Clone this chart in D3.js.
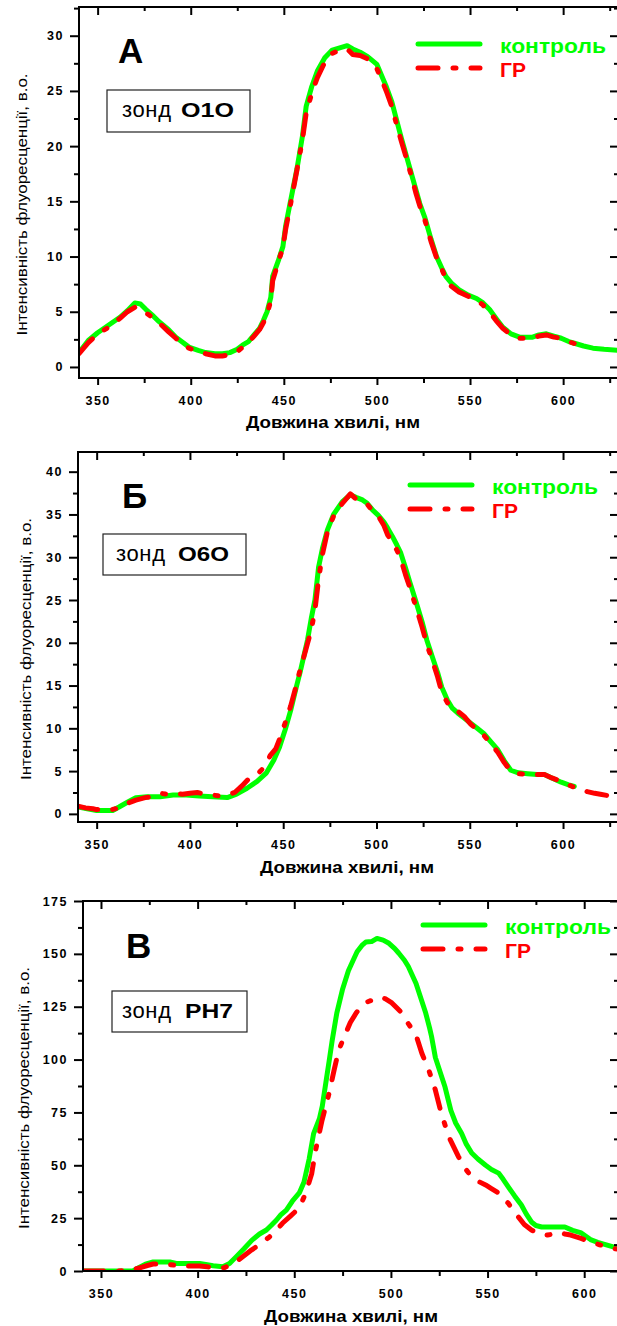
<!DOCTYPE html>
<html>
<head>
<meta charset="utf-8">
<script src="https://cdn.jsdelivr.net/npm/d3@7"></script>
<style>
body { margin: 0; background: #fff; }
svg { display: block; }
text { font-family: "Liberation Sans", Arial, sans-serif; }
</style>
</head>
<body>
<script>
// ---- data: [wavelength nm, intensity] ----
var controlA = [[340,1.3],[345,2.4],[350,3.1],[356,3.8],[362,4.5],[366,5.1],[370,5.8],[373,5.7],[376,5.2],[380,4.6],[383,4.1],[388,3.4],[392,2.7],[396,2.2],[399,1.8],[404,1.5],[408,1.3],[413,1.2],[417,1.2],[421,1.3],[425,1.6],[428,2.0],[431,2.3],[434,2.9],[437,3.5],[439,4.2],[441,5.0],[443,6.3],[444,8.2],[447,9.6],[449.5,10.9],[451,12.8],[453,14.5],[455,16.2],[457,17.9],[460,20.9],[462,23.6],[465,25.4],[468,26.8],[472,28.0],[476,28.7],[480,28.9],[484,29.1],[487,28.8],[491,28.5],[495,28.1],[500,27.4],[505,25.4],[508,24.0],[510.5,22.4],[513,20.8],[516,19.0],[519,17.2],[521,16.0],[523,14.8],[525.6,13.6],[529,11.6],[532,10.0],[535,8.9],[537,8.2],[540,7.6],[544,7.0],[549,6.5],[553.5,6.2],[557,5.8],[560.5,5.2],[564,4.4],[567.6,3.6],[572,3.0],[576.6,2.7],[580,2.7],[583.6,2.7],[587,2.9],[591,3.0],[595,2.8],[599,2.6],[603,2.3],[607,2.1],[611,1.9],[616,1.7],[622,1.6],[630,1.5]];
var grA = [[340,1.2],[345,2.2],[350,3.0],[356,3.6],[362,4.4],[366,5.0],[370,5.4],[373,5.3],[376,4.9],[380,4.4],[383,4.0],[388,3.2],[392,2.6],[396,2.0],[399,1.7],[404,1.4],[408,1.2],[413,1.0],[417,1.0],[421,1.1],[425,1.4],[428,1.8],[431,2.2],[434,2.8],[437,3.4],[439,4.0],[441,4.8],[443,6.0],[444,7.8],[447,9.5],[449.5,10.8],[451,12.5],[453,14.2],[455,16.0],[457,17.8],[460,20.6],[462,23.0],[465,24.8],[468,26.2],[472,27.6],[476,28.4],[480,28.7],[484,28.8],[487,28.3],[491,28.2],[495,27.9],[500,27.0],[505,25.0],[508,23.6],[510.5,22.0],[513,20.5],[516,18.8],[519,17.0],[521,15.7],[523,14.6],[525.6,13.4],[529,11.4],[532,9.9],[535,8.8],[537,8.0],[540,7.3],[544,6.8],[549,6.4],[553.5,6.1],[557,5.6],[560.5,5.0],[564,4.2],[567.6,3.5],[572,2.9],[576.6,2.6],[580,2.6],[583.6,2.6],[587,2.8],[591,2.9],[595,2.7],[599,2.6],[603,2.3],[608,2.0]];

var controlB = [[340,0.8],[345,0.6],[350,0.4],[355,0.4],[358.6,0.4],[362,0.8],[366,1.3],[371,1.9],[377,2.0],[384,2.0],[391,2.2],[398,2.2],[405,2.1],[412,2.0],[420,1.9],[425,2.3],[430.6,3.0],[436,3.8],[441,4.8],[445,6.3],[448,7.8],[451,9.8],[454,12.1],[457,14.8],[459,16.5],[461,18.4],[463,20.3],[465,22.8],[467,25.0],[469,28.9],[471,31.0],[473.7,33.2],[477,35.0],[481.7,36.5],[486,37.3],[489,37.0],[492.5,36.7],[495,36.3],[498,35.5],[501,34.9],[504,34.1],[506,33.4],[508.6,32.4],[511,31.4],[513,30.5],[515.5,28.8],[518,27.0],[520,25.6],[522,24.2],[524.5,22.4],[527,20.3],[530,18.3],[532.8,16.5],[535,14.8],[538,13.3],[540.5,12.4],[543.5,11.8],[547,11.2],[550.5,10.6],[554,10.0],[557.5,9.4],[561,8.5],[565,7.5],[568.5,6.2],[572,5.1],[576,4.8],[581,4.7],[586,4.6],[590,4.6],[594,4.2],[599,3.7],[603,3.4],[606,3.2]];
var grB = [[340,0.9],[344,0.7],[348,0.6],[350,0.5],[355,0.5],[358,0.5],[362,0.7],[366,1.2],[371,1.6],[376,1.9],[380,2.0],[384,2.4],[388,2.3],[392,2.4],[396,2.3],[400,2.4],[404,2.5],[408,2.3],[412,2.2],[416,2.1],[420,2.2],[424,2.5],[428,3.3],[432,4.2],[436,4.6],[440,5.5],[443,6.8],[446,7.6],[448,8.7],[451,10.6],[454,12.6],[457,15.0],[459,16.8],[461,18.3],[463,19.9],[465,21.5],[467,23.8],[469,27.5],[471,30.3],[473.7,33.0],[477,34.8],[481.7,36.3],[486,37.4],[489,36.8],[492.5,36.4],[495,36.2],[498,35.4],[501,34.8],[504,33.7],[506,32.6],[508.6,31.8],[511,30.8],[513,29.8],[515.5,28.0],[518,26.4],[520,25.0],[522,23.6],[524.5,21.8],[527,19.8],[530,17.9],[532.8,16.0],[535,14.2],[538,13.0],[540.5,12.4],[543.5,12.0],[547,11.4],[550.5,10.5],[554,9.8],[557.5,9.2],[561,8.3],[565,7.2],[568.5,6.0],[572,5.0],[576,4.7],[581,4.6],[586,4.6],[590,4.6],[594,4.2],[599,3.8],[603,3.4],[606,3.1],[610,2.9],[613,2.6],[617,2.4],[620,2.3],[625,2.1],[630,1.9]];

var controlC = [[341,0],[350,0],[360,0],[366.5,0],[370,1.8],[373,3.2],[377,4.3],[381,4.3],[385.6,4.3],[389,3.6],[395,3.6],[401,3.6],[405,3.0],[408,2.5],[413,2.0],[416.5,3.5],[420,6.8],[424,10.5],[428,14.5],[432,17.5],[435.6,19.4],[438,21.5],[440.7,24],[443,26.5],[445.9,28.8],[449,33],[452.6,36.9],[455,42],[457.7,53],[460,65],[463,72],[464.5,78],[466.5,90],[468,99],[469.6,109],[472,122],[474.9,133],[478,142],[480,146],[482.5,151],[485,154],[487,155.6],[490,155.8],[492.8,157.3],[496,156.5],[499,155],[502,152.5],[504,150.4],[507,147],[509,144],[511,140],[513,136],[515.5,129],[518,122],[520,115],[521,111],[523,101],[525.5,94],[528,87],[531,76],[533.5,70],[536.6,65],[539,60],[541.8,55.8],[545,53],[549,50],[552,48],[555.7,46.3],[558,43.5],[560.8,39.7],[564,35.5],[567.5,31.2],[570,27],[572.7,23.2],[575,21.5],[578,20.8],[584,20.8],[590,20.8],[594,19.2],[598.5,18],[603.6,14.7],[607,13.5],[611,12.5],[615,11.4],[618,10.8]];
var grC = [[341,0],[350,0],[358,0],[365,0.2],[370,1.5],[374,2.6],[377,3.3],[382,3.3],[386,3.0],[391,2.4],[396,2.4],[401,2.4],[405,2.0],[410,1.4],[414,1.6],[419,3.8],[423,6.5],[428,10],[432,12.5],[437,16],[441,19.5],[444,22.7],[448,26],[452.6,29.8],[456,37],[459,46],[461,57],[464.4,71.4],[468,84],[470.6,95],[473,104.5],[476.7,112.6],[479,117.5],[482,122],[485,125.5],[487,127],[490,128],[493.8,129.6],[497,128.8],[500.5,126.8],[503,124.5],[505.7,122],[509,117],[513,111.6],[516,103],[519.6,95],[523,85.6],[526,74.7],[530,63.4],[535,54],[538,49],[541.8,44.5],[545,42.5],[549,40.7],[552,39],[555.7,36.9],[558,34.5],[560.8,32],[563,29],[566,25.5],[569,22],[572.7,19.4],[576,17.8],[581,17],[584,17.5],[586.6,18.4],[590,17.5],[593,17],[598,15.5],[603.6,13.7],[608,12.4],[614,10.9],[618,10.2]];

// tick labels
var xTicks   = [350, 400, 450, 500, 550, 600];
var xMinor   = [375, 425, 475, 525, 575, 625];
var yTicksA  = [0, 5, 10, 15, 20, 25, 30];
var yTicksB  = [0, 5, 10, 15, 20, 25, 30, 35, 40];
var yTicksC  = [0, 25, 50, 75, 100, 125, 150, 175];
var yMinorA  = [2.5, 7.5, 12.5, 17.5, 22.5, 27.5, 32.5];
var yMinorB  = [2.5, 7.5, 12.5, 17.5, 22.5, 27.5, 32.5, 37.5, 42.5];
var yMinorC  = [12.5, 37.5, 62.5, 87.5, 112.5, 137.5, 162.5];

var seriesNames = ["контроль", "ГР"];
var panelLetters = ["А", "Б", "В"];
var probeNames  = ["O1O", "O6O", "PH7"];
var xTitle = "Довжина хвилі, нм";
var yTitle = "Інтенсивність флуоресценції, в.о.";

var GREEN = "#00ff00", RED = "#ff0000";
var DASH = "20,15,3,15";

var svg = d3.select("body").append("svg")
  .attr("width", 617).attr("height", 1326);

var panels = [
  { i:0, control:controlA, gr:grA, xDom:[340,630], yDom:[-1,32.6], yTicks:yTicksA, yMinor:yMinorA,
    left:79, right:619, top:7, bottom:378,
    letterPos:[118,63], box:[107,90,143,42], probeX:[15,74], probeLen:53,
    legend:[418,44], yTitleX:27, xTitleX:333, xTitleY:428 },
  { i:1, control:controlB, gr:grB, xDom:[340,630], yDom:[-0.95,42.3], yTicks:yTicksB, yMinor:yMinorB,
    left:78, right:619, top:452, bottom:822,
    letterPos:[122,508], box:[103,534,143,41], probeX:[13,75], probeLen:51,
    legend:[410,485], yTitleX:31, xTitleX:347, xTitleY:873 },
  { i:2, control:controlC, gr:grC, xDom:[340.7,618], yDom:[0,175], yTicks:yTicksC, yMinor:yMinorC,
    left:83, right:619, top:901, bottom:1271,
    letterPos:[126,958], box:[112,991,135,41], probeX:[10,73], probeLen:48,
    legend:[423,925], yTitleX:29, xTitleX:351, xTitleY:1322 }
];

panels.forEach(drawPanel);

function drawPanel(p) {
  var g = svg.append("g");
  var x = d3.scaleLinear().domain(p.xDom).range([p.left, p.right]);
  var y = d3.scaleLinear().domain(p.yDom).range([p.bottom, p.top]);

  var clipId = "clip" + p.i;
  g.append("clipPath").attr("id", clipId).append("rect")
    .attr("x", p.left).attr("y", p.top)
    .attr("width", p.right - p.left).attr("height", p.bottom - p.top);

  var line = d3.line().x(function (d) { return x(d[0]); }).y(function (d) { return y(d[1]); });

  var curves = g.append("g").attr("clip-path", "url(#" + clipId + ")");
  curves.append("path").datum(p.control).attr("d", line)
    .attr("fill", "none").attr("stroke", GREEN).attr("stroke-width", 5)
    .attr("stroke-linejoin", "round").attr("stroke-linecap", "round");
  curves.append("path").datum(p.gr).attr("d", line)
    .attr("fill", "none").attr("stroke", RED).attr("stroke-width", 5)
    .attr("stroke-dasharray", DASH)
    .attr("stroke-linejoin", "round").attr("stroke-linecap", "round");

  // axes, Origin style: ticks out on left/bottom, in on top/right
  function style(sel) {
    sel.selectAll(".domain").remove();
    sel.selectAll("line").attr("stroke", "#000").attr("stroke-width", 2);
    sel.selectAll("text").attr("fill", "#000").style("font-size", "12.5px")
      .style("font-weight", "bold").style("letter-spacing", "1.5px");
  }
  var fmt = d3.format("d");
  var xm = xMinor.filter(function (v) { return v < p.xDom[1]; });
  var ym = p.yMinor.filter(function (v) { return v < p.yDom[1]; });
  g.append("g").attr("transform", "translate(0," + p.bottom + ")")
    .call(d3.axisBottom(x).tickValues(xTicks).tickSize(7).tickPadding(11).tickFormat(fmt)).call(style);
  g.append("g").attr("transform", "translate(0," + p.bottom + ")")
    .call(d3.axisBottom(x).tickValues(xm).tickSize(5).tickFormat("")).call(style);
  g.append("g").attr("transform", "translate(0," + p.top + ")")
    .call(d3.axisTop(x).tickValues(xTicks).tickSize(-8).tickFormat("")).call(style);
  g.append("g").attr("transform", "translate(0," + p.top + ")")
    .call(d3.axisTop(x).tickValues(xm).tickSize(-4).tickFormat("")).call(style);

  g.append("g").attr("transform", "translate(" + p.left + ",0)")
    .call(d3.axisLeft(y).tickValues(p.yTicks).tickSize(9).tickPadding(6).tickFormat(fmt)).call(style);
  g.append("g").attr("transform", "translate(" + p.left + ",0)")
    .call(d3.axisLeft(y).tickValues(ym).tickSize(5).tickFormat("")).call(style);
  g.append("g").attr("transform", "translate(" + p.right + ",0)")
    .call(d3.axisRight(y).tickValues(p.yTicks).tickSize(-9).tickFormat("")).call(style);
  g.append("g").attr("transform", "translate(" + p.right + ",0)")
    .call(d3.axisRight(y).tickValues(ym).tickSize(-5).tickFormat("")).call(style);

  g.append("rect").attr("x", p.left).attr("y", p.top)
    .attr("width", p.right - p.left).attr("height", p.bottom - p.top)
    .attr("fill", "none").attr("stroke", "#000").attr("stroke-width", 2);

  // axis titles
  g.append("text").attr("x", p.xTitleX).attr("y", p.xTitleY)
    .attr("text-anchor", "middle").style("font-size", "16px").style("font-weight", "bold")
    .attr("textLength", 174).attr("lengthAdjust", "spacingAndGlyphs")
    .text(xTitle);
  g.append("text").attr("transform", "translate(" + p.yTitleX + "," + ((p.top + p.bottom) / 2 + 12) + ") rotate(-90)")
    .attr("text-anchor", "middle").style("font-size", "14.5px")
    .attr("textLength", 262).attr("lengthAdjust", "spacingAndGlyphs")
    .text(yTitle);

  // panel letter
  g.append("text").attr("x", p.letterPos[0]).attr("y", p.letterPos[1])
    .style("font-size", "35px").style("font-weight", "bold").text(panelLetters[p.i]);

  // probe box
  var b = p.box;
  g.append("rect").attr("x", b[0]).attr("y", b[1]).attr("width", b[2]).attr("height", b[3])
    .attr("fill", "#fff").attr("stroke", "#222").attr("stroke-width", 1.2);
  g.append("text").attr("x", b[0] + p.probeX[0]).attr("y", b[1] + 27)
    .style("font-size", "22px").attr("textLength", 49).attr("lengthAdjust", "spacing")
    .text("зонд");
  g.append("text").attr("x", b[0] + p.probeX[1]).attr("y", b[1] + 27)
    .style("font-size", "21px").style("font-weight", "bold")
    .attr("textLength", p.probeLen).attr("lengthAdjust", "spacingAndGlyphs")
    .text(probeNames[p.i]);

  // legend
  var lx = p.legend[0], ly = p.legend[1];
  g.append("line").attr("x1", lx).attr("x2", lx + 62).attr("y1", ly).attr("y2", ly)
    .attr("stroke", GREEN).attr("stroke-width", 5).attr("stroke-linecap", "round");
  g.append("line").attr("x1", lx).attr("x2", lx + 62).attr("y1", ly + 24).attr("y2", ly + 24)
    .attr("stroke", RED).attr("stroke-width", 5).attr("stroke-linecap", "round")
    .attr("stroke-dasharray", DASH);
  g.append("text").attr("x", lx + 82).attr("y", ly + 9)
    .attr("fill", GREEN).style("font-size", "21px").style("font-weight", "bold")
    .attr("textLength", 106).attr("lengthAdjust", "spacingAndGlyphs")
    .text(seriesNames[0]);
  g.append("text").attr("x", lx + 82).attr("y", ly + 33)
    .attr("fill", RED).style("font-size", "21px").style("font-weight", "bold")
    .text(seriesNames[1]);
}
</script>
</body>
</html>
